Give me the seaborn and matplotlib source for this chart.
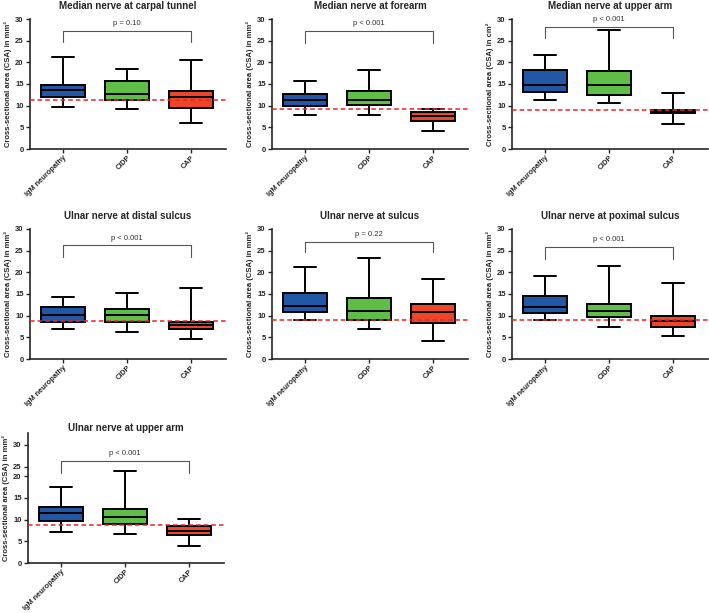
import numpy as np
import pandas as pd
import matplotlib.pyplot as plt
import seaborn as sns

# Grupos e cores
grupos = ['IgM neuropathy', 'CIDP', 'CAP']
cores = ['#2257A6', '#5EBE47', '#EE4429']

titulos = ['Median nerve at carpal tunnel', 'Median nerve at forearm', 'Median nerve at upper arm',
           'Ulnar nerve at distal sulcus', 'Ulnar nerve at sulcus', 'Ulnar nerve at poximal sulcus',
           'Ulnar nerve at upper arm']
unidades = ['mm²', 'mm²', 'cm²', 'mm²', 'mm²', 'mm²', 'mm²']
p_valores = ['p = 0.10', 'p < 0.001', 'p < 0.001', 'p < 0.001', 'p = 0.22', 'p < 0.001', 'p < 0.001']

# Resumo de cinco números por grupo: mínimo, Q1, mediana, Q3, máximo
carpal_tunnel = [[9.6, 11.9, 13.6, 14.8, 21.3], [9.3, 11.3, 12.8, 15.6, 18.4], [6.1, 9.4, 11.9, 13.4, 20.6]]
forearm = [[7.8, 9.9, 11.4, 12.6, 15.8], [7.8, 10.2, 11.4, 13.5, 18.3], [4.2, 6.5, 7.6, 8.5, 9.2]]
median_upper_arm = [[11.4, 13.1, 14.7, 18.3, 21.7], [10.6, 12.5, 14.7, 18.0, 27.5], [5.8, 8.2, 8.6, 9.1, 12.9]]
distal_sulcus = [[6.9, 8.6, 10.1, 12.0, 14.3], [6.3, 8.5, 10.1, 11.6, 15.2], [4.6, 7.0, 7.8, 8.6, 16.5]]
sulcus = [[9.0, 10.8, 12.3, 15.2, 21.3], [7.0, 9.0, 11.1, 14.0, 23.3], [4.2, 8.2, 10.8, 12.7, 18.5]]
proximal_sulcus = [[9.0, 10.6, 12.1, 14.5, 19.1], [7.3, 9.7, 11.0, 12.8, 21.4], [5.2, 7.5, 8.7, 9.9, 17.6]]
ulnar_upper_arm = [[7.2, 9.6, 11.5, 12.9, 17.5], [6.8, 9.0, 10.7, 12.4, 21.2], [4.0, 6.4, 7.5, 8.5, 10.2]]

paineis = [carpal_tunnel, forearm, median_upper_arm, distal_sulcus, sulcus, proximal_sulcus, ulnar_upper_arm]

# Linha de corte (normal) e altura do colchete de significância
cortes = [11.2, 9.2, 8.9, 8.8, 8.9, 8.9, 8.8]
colchete_topo = [27.3, 27.3, 28.2, 26.2, 27.1, 25.9, 23.6]
colchete_base = [24.6, 24.5, 25.6, 23.5, 24.6, 23.0, 20.8]

# Último painel tem eixo y com rótulos irregulares
ticks_padrao = [0, 5, 10, 15, 20, 25, 30]
ticks_ultimo = [0, 5, 10, 15, 20, 22.2, 27.3]

sns.set_style('ticks')
plt.rcParams['font.family'] = ['Liberation Sans', 'DejaVu Sans']

fig = plt.figure(figsize=(7.09, 6.13), dpi=100)
W, H = 709, 613
esquerdas = [30, 272, 512]
bases = [149, 359, 563]

for i, resumo in enumerate(paineis):
    linha, coluna = divmod(i, 3)
    x0 = esquerdas[coluna] - (2 if linha == 2 else 0)
    ax = fig.add_axes([x0 / W, 1 - bases[linha] / H, 196 / W, 130 / H])

    df = pd.DataFrame({'Grupo': np.repeat(grupos, 5), 'CSA': np.concatenate(resumo)})
    sns.boxplot(data=df, x='Grupo', y='CSA', hue='Grupo', palette=cores, order=grupos,
                whis=(0, 100), width=0.68, linewidth=1.4, linecolor='black',
                saturation=1, legend=False, ax=ax)

    ax.axhline(cortes[i], color='#E5262A', ls=(0, (3, 2)), lw=1.1, zorder=5)

    # colchete de comparação IgM vs CAP
    ax.plot([0, 0, 2, 2], [colchete_base[i], colchete_topo[i], colchete_topo[i], colchete_base[i]],
            color='#555555', lw=0.8, clip_on=False)
    ax.text(1, colchete_topo[i] + 0.9, p_valores[i], ha='center', va='bottom',
            fontsize=5.5, color='#333333', clip_on=False)

    ax.set_xlim(-0.52, 2.55)
    ax.set_ylim(0, 30)
    if i == 6:
        ax.set_yticks(ticks_ultimo)
        ax.set_yticklabels(ticks_padrao)
    else:
        ax.set_yticks(ticks_padrao)
    ax.set_xlabel('')
    ax.set_ylabel(f'Cross-sectional area (CSA) in {unidades[i]}', fontsize=5.5,
                  fontweight='bold', labelpad=2)
    ax.set_title(titulos[i], fontsize=7, fontweight='bold', pad=(-6 if linha == 2 else 7))
    ax.tick_params(axis='y', labelsize=5.5, width=1, length=3, pad=1.5)
    ax.tick_params(axis='x', labelsize=5.3, width=1, length=3, pad=1)
    for lab in ax.get_yticklabels():
        lab.set_fontweight('bold')
    for lab in ax.get_xticklabels():
        lab.set_rotation(45)
        lab.set_ha('right')
        lab.set_rotation_mode('anchor')
        lab.set_fontweight('bold')
    for s in ['left', 'bottom']:
        ax.spines[s].set_linewidth(1.2)
    sns.despine(ax=ax)

fig.savefig('out.png', dpi=100)
